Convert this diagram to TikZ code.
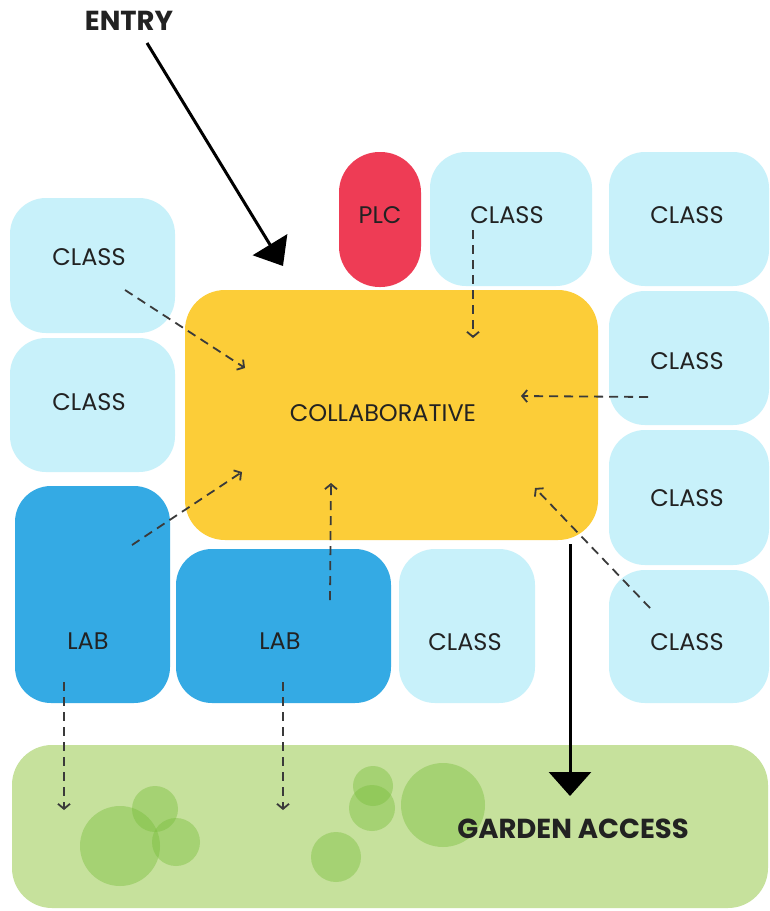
\documentclass[tikz,border=0pt]{standalone}
\usepackage{fontspec}
\setmainfont{Poppins}
\usetikzlibrary{arrows.meta}
\definecolor{lightb}{HTML}{C8F1FA}
\definecolor{darkb}{HTML}{34AAE4}
\definecolor{yel}{HTML}{FCCD38}
\definecolor{plcred}{HTML}{EE3C55}
\definecolor{grass}{HTML}{C6E19C}
\definecolor{tree}{HTML}{78BE3C}
\definecolor{ink}{HTML}{222222}
\definecolor{dashc}{HTML}{3A3A3A}
\tikzset{
  room/.style={rectangle, rounded corners=36pt, inner sep=0pt, draw=none},
  lbl/.style={text=ink, font=\fontsize{24}{26}\selectfont, inner sep=0pt},
  blbl/.style={text=ink, font=\fontsize{27.5}{30}\selectfont\bfseries, inner sep=0pt},
  flow/.style={draw=dashc, line width=1.8pt, dash pattern=on 9pt off 6pt, -{Straight Barb[length=5pt,width=12pt]}},
  bigarrow/.style={draw=black, line width=3pt},
  treec/.style={fill=tree, fill opacity=0.42, draw=none}
}
\begin{document}
\begin{tikzpicture}[x=1pt,y=-1pt]
\useasboundingbox (0,0) rectangle (769,911);
\fill[white] (0,0) rectangle (769,911);
% garden
\node[room, rounded corners=40pt, fill=grass, minimum width=756pt, minimum height=163pt] (garden) at (390,826.5) {};
\fill[treec] (120,846) circle (40);
\fill[treec] (155,809) circle (23);
\fill[treec] (176,842) circle (24);
\fill[treec] (373,786) circle (20);
\fill[treec] (372,808) circle (23);
\fill[treec] (336,857) circle (25);
\fill[treec] (443,805) circle (42);
% rooms
\node[room, fill=lightb, minimum width=165pt, minimum height=135pt] (c1) at (92.5,265.5) {};
\node[room, fill=lightb, minimum width=165pt, minimum height=134pt] (c2) at (92.5,405) {};
\node[room, fill=darkb, minimum width=155pt, minimum height=217pt] (lab1) at (92.5,594.5) {};
\node[room, fill=darkb, minimum width=215pt, minimum height=154pt] (lab2) at (283.5,626) {};
\node[room, fill=lightb, minimum width=136pt, minimum height=154pt] (c3) at (467,626) {};
\node[room, fill=lightb, minimum width=160pt, minimum height=134pt] (r1) at (689,219) {};
\node[room, fill=lightb, minimum width=160pt, minimum height=134pt] (r2) at (689,358) {};
\node[room, fill=lightb, minimum width=160pt, minimum height=135pt] (r3) at (689,497.5) {};
\node[room, fill=lightb, minimum width=160pt, minimum height=133pt] (r4) at (689,636.5) {};
\node[room, fill=lightb, minimum width=162pt, minimum height=134pt] (ct) at (511,219) {};
\node[room, rounded corners=40.5pt, fill=plcred, minimum width=82pt, minimum height=135pt] (plc) at (380,219.5) {};
\node[room, rounded corners=40pt, fill=yel, minimum width=413pt, minimum height=250pt] (collab) at (391.5,415) {};
% labels
\node[lbl] (t1) at (89,257) {CLASS};
\node[lbl] (t2) at (89,402) {CLASS};
\node[lbl] (t3) at (507,215) {CLASS};
\node[lbl] (t4) at (687,215) {CLASS};
\node[lbl] (t5) at (687,361) {CLASS};
\node[lbl] (t6) at (687,498) {CLASS};
\node[lbl] (t7) at (687,642) {CLASS};
\node[lbl] (t8) at (465,642) {CLASS};
\node[lbl] (t9) at (380,215) {PLC};
\node[lbl] (t10) at (383,413) {COLLABORATIVE};
\node[lbl] (t11) at (88,641) {LAB};
\node[lbl] (t12) at (280,641) {LAB};
\node[blbl] (entry) at (129,21) {ENTRY};
\node[blbl] (gat) at (573,829) {GARDEN ACCESS};
% big arrows
\coordinate (e1) at (147,43);
\coordinate (e2) at (283,266);
\draw[bigarrow, -{Triangle[length=25pt,width=40pt]}] (e1) -- (e2);
\coordinate (g1) at (570,544);
\coordinate (g2) at (570,796);
\draw[bigarrow, -{Triangle[length=24pt,width=42pt]}] (g1) -- (g2);
% dashed flows
\coordinate (a1) at (125,290); \coordinate (b1) at (245,368);
\coordinate (a2) at (473,230); \coordinate (b2) at (473,338);
\coordinate (a3) at (648,397); \coordinate (b3) at (521,396);
\coordinate (a4) at (650,608); \coordinate (b4) at (535,488);
\coordinate (a5) at (330,600); \coordinate (b5) at (331,483);
\coordinate (a6) at (132,545); \coordinate (b6) at (242,472);
\coordinate (a7) at (64,682);  \coordinate (b7) at (64,810);
\coordinate (a8) at (283,682); \coordinate (b8) at (283,810);
\draw[flow] (a1) -- (b1);
\draw[flow] (a2) -- (b2);
\draw[flow] (a3) -- (b3);
\draw[flow] (a4) -- (b4);
\draw[flow] (a5) -- (b5);
\draw[flow] (a6) -- (b6);
\draw[flow] (a7) -- (b7);
\draw[flow] (a8) -- (b8);
\end{tikzpicture}
\end{document}
